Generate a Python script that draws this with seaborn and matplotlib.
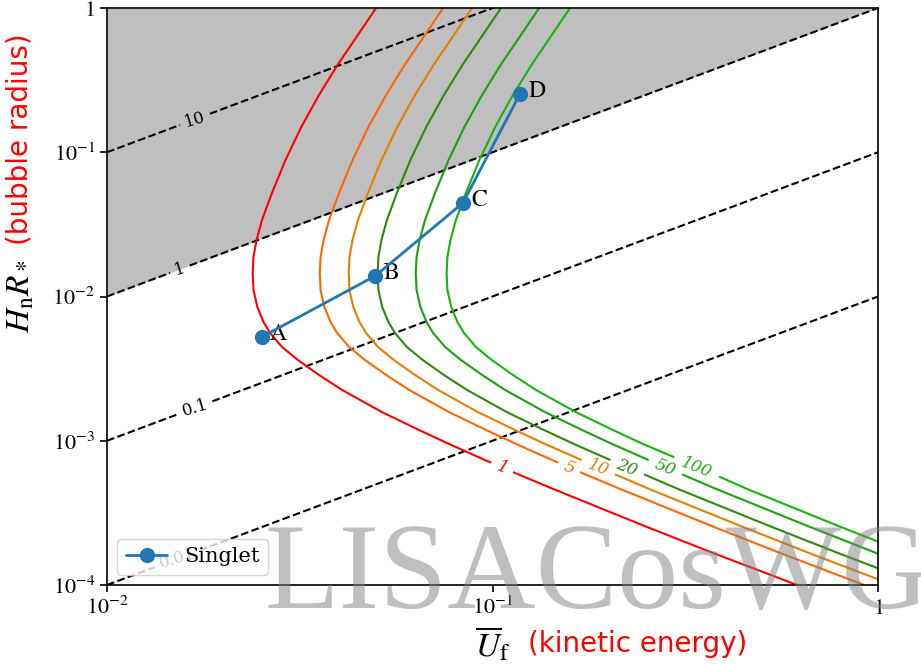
import numpy as np
import matplotlib
matplotlib.use('Agg')
import matplotlib.pyplot as plt
from matplotlib.contour import ContourSet
from matplotlib.ticker import FixedLocator, FuncFormatter, NullLocator
import seaborn as sns

# benchmark points of the singlet model
point_names = ['A', 'B', 'C', 'D']
point_u = [0.0252, 0.0496, 0.0838, 0.1178]
point_r = [0.00524, 0.01387, 0.0445, 0.2535]

snr_levels = [1, 5, 10, 20, 50, 100]
snr_colors = ['#ff0000', '#ff6600', '#e67e00', '#2d8b0a', '#18a20c', '#16b50b']
log_r_levels = [0, -0.194, -0.395, -0.603, -0.825, -1.054, -1.282, -1.470, -1.608,
                -1.726, -1.837, -1.955, -2.073, -2.177, -2.253, -2.350, -2.440,
                -2.544, -2.648, -2.801, -2.925, -3.022, -3.140, -3.223, -3.334,
                -3.466, -3.598, -3.778, -4.000]
log_u_snr1 = [-1.302, -1.351, -1.402, -1.450, -1.496, -1.537, -1.572, -1.598, -1.612,
              -1.620, -1.622, -1.620, -1.610, -1.594, -1.577, -1.546, -1.505, -1.450,
              -1.390, -1.287, -1.191, -1.113, -1.014, -0.942, -0.843, -0.721, -0.599,
              -0.428, -0.210]
log_u_snr5 = [-1.128, -1.177, -1.228, -1.276, -1.322, -1.363, -1.398, -1.424, -1.438,
              -1.446, -1.448, -1.446, -1.436, -1.420, -1.403, -1.372, -1.331, -1.276,
              -1.216, -1.113, -1.017, -0.939, -0.840, -0.768, -0.669, -0.547, -0.425,
              -0.254, -0.036]
log_u_snr10 = [-1.053, -1.102, -1.153, -1.201, -1.247, -1.288, -1.323, -1.349, -1.363,
               -1.371, -1.373, -1.371, -1.361, -1.345, -1.328, -1.297, -1.256, -1.201,
               -1.141, -1.038, -0.942, -0.864, -0.765, -0.693, -0.594, -0.472, -0.350,
               -0.179, 0.039]
log_u_snr20 = [-0.978, -1.027, -1.078, -1.126, -1.172, -1.213, -1.248, -1.274, -1.288,
               -1.296, -1.298, -1.296, -1.286, -1.270, -1.253, -1.222, -1.181, -1.126,
               -1.066, -0.963, -0.867, -0.789, -0.690, -0.618, -0.519, -0.397, -0.275,
               -0.104, 0.114]
log_u_snr50 = [-0.879, -0.928, -0.979, -1.027, -1.073, -1.114, -1.149, -1.175, -1.189,
               -1.197, -1.199, -1.197, -1.187, -1.171, -1.154, -1.123, -1.082, -1.027,
               -0.967, -0.864, -0.768, -0.690, -0.591, -0.519, -0.420, -0.298, -0.176,
               -0.005, 0.213]
log_u_snr100 = [-0.799, -0.848, -0.899, -0.947, -0.993, -1.034, -1.069, -1.095, -1.109,
                -1.117, -1.119, -1.117, -1.107, -1.091, -1.074, -1.043, -1.002, -0.947,
                -0.887, -0.784, -0.688, -0.610, -0.511, -0.439, -0.340, -0.218, -0.096,
                0.075, 0.293]
snr_label_log_u = [-0.975, -0.801, -0.726, -0.651, -0.552, -0.472]
snr_label_log_r = -3.182

# lines of constant H_n R_* / U_f
tau_levels = [0.01, 0.1, 1, 10]
tau_names = {0.01: '0.01', 0.1: '0.1', 1: '1', 10: '10'}
tau_label_u = [0.0152, 0.0169, 0.01545, 0.0169]

u_edges = [1e-2, 1]
r_edges = [1e-4, 1]
x_ticks = [1e-2, 1e-1, 1]
y_ticks = [1e-4, 1e-3, 1e-2, 1e-1, 1]

sns.set_style('ticks', rc={'axes.edgecolor': 'black', 'xtick.color': 'black',
                           'ytick.color': 'black', 'text.color': 'black'})
plt.rcParams['font.family'] = ['DejaVu Serif']
plt.rcParams['mathtext.fontset'] = 'stix'

fig = plt.figure(figsize=(9.21, 6.64), dpi=100)
ax = fig.add_axes([107 / 921, 79 / 664, 771 / 921, 577 / 664])
ax.set_xscale('log')
ax.set_yscale('log')

# region above H_n R_* = U_f
ax.fill_between(u_edges, u_edges, r_edges[1], color='#bfbfbf', lw=0, zorder=1)

# straight lines sampled finely so the inline labels cut only a small gap
u_line = np.geomspace(u_edges[0], u_edges[1], 80)
tau_segs = [[np.column_stack([u_line, t * u_line])] for t in tau_levels]
tau_cs = ContourSet(ax, tau_levels, tau_segs, colors='k', linewidths=1.5,
                    linestyles='dashed')
ax.clabel(tau_cs, inline=True, fmt=tau_names, fontsize=12,
          manual=[(u, t * u) for u, t in zip(tau_label_u, tau_levels)])

snr_u = [log_u_snr1, log_u_snr5, log_u_snr10, log_u_snr20, log_u_snr50, log_u_snr100]
snr_segs = [[np.column_stack([np.power(10.0, lu), np.power(10.0, log_r_levels)])]
            for lu in snr_u]
snr_cs = ContourSet(ax, snr_levels, snr_segs, colors=snr_colors, linewidths=1.5)
snr_txt = ax.clabel(snr_cs, inline=True, fmt={s: str(s) for s in snr_levels}, fontsize=12,
                    manual=[(10 ** lu, 10 ** snr_label_log_r) for lu in snr_label_log_u])
for t in snr_txt:
    t.set_fontstyle('italic')

sns.lineplot(x=point_u, y=point_r, sort=False, marker='o', markersize=11, linewidth=2,
             color='#1f77b4', markeredgewidth=0, label='Singlet', ax=ax, zorder=4)
for name, u, r in zip(point_names, point_u, point_r):
    ax.annotate(name, (u, r), xytext=(6, 2), textcoords='offset points', ha='left',
                va='center', fontsize=17, family='STIXGeneral')

ax.set_xlim(u_edges)
ax.set_ylim(r_edges)
ax.xaxis.set_major_locator(FixedLocator(x_ticks))
ax.yaxis.set_major_locator(FixedLocator(y_ticks))
ax.xaxis.set_minor_locator(NullLocator())
ax.yaxis.set_minor_locator(NullLocator())
fmt = FuncFormatter(lambda v, p: '$1$' if np.isclose(v, 1) else r'$10^{%d}$' % round(np.log10(v)))
ax.xaxis.set_major_formatter(fmt)
ax.yaxis.set_major_formatter(fmt)
ax.tick_params(labelsize=16, length=5, width=1.2)
for s in ax.spines.values():
    s.set_linewidth(1.2)
ax.set_xlabel('')
ax.set_ylabel('')
ax.legend(loc='lower left', fontsize=15)

fig.text(493 / 921, 1 - 644 / 664, r'$\overline{U}_{\rm f}$', fontsize=24, ha='center', va='center')
fig.text(528 / 921, 1 - 644 / 664, '(kinetic energy)', fontsize=20, color='red',
         family='DejaVu Sans', ha='left', va='center')
fig.text(20 / 921, 1 - 296 / 664, r'$H_{\rm n}R_*$', fontsize=24, rotation=90,
         ha='center', va='center')
fig.text(20 / 921, 1 - 245 / 664, '(bubble radius)', fontsize=20, rotation=90, color='red',
         family='DejaVu Sans', ha='center', va='bottom')

fig.text(264 / 921, 1 - 608 / 664, 'LISACosWG', fontsize=88, family='Liberation Serif',
         color='gray', alpha=0.5, ha='left', va='baseline')

fig.savefig('out.png', dpi=100)
